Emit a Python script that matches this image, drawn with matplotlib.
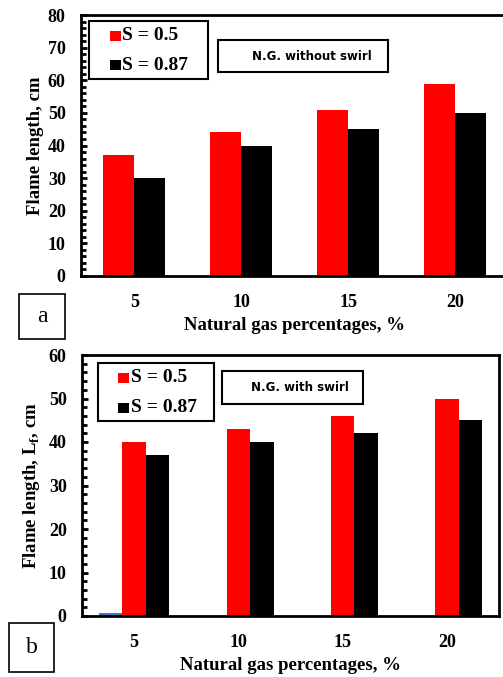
import numpy as np
import matplotlib.pyplot as plt
from matplotlib.patches import Rectangle
from matplotlib.ticker import MultipleLocator

plt.rcParams['font.family'] = 'Liberation Serif'
plt.rcParams['mathtext.fontset'] = 'custom'
plt.rcParams['mathtext.rm'] = 'Liberation Serif:bold'
plt.rcParams['mathtext.bf'] = 'Liberation Serif:bold'

categories = ['5', '10', '15', '20']
series_labels = ['S = 0.5', 'S = 0.87']
series_colors = ['red', 'black']

# panel a: N.G. without swirl
a_s05 = [37, 44, 51, 59]
a_s087 = [30, 40, 45, 50]

# panel b: N.G. with swirl
b_extra = [0.7, 0, 0, 0]
b_s05 = [40, 43, 46, 50]
b_s087 = [37, 40, 42, 45]

W, H = 503, 677
fig = plt.figure(figsize=(W / 100, H / 100), dpi=100)


def px_axes(l, t, r, b):
    return fig.add_axes([l / W, (H - b) / H, (r - l) / W, (b - t) / H])


def fx(px):
    return px / W


def fy(py):
    return (H - py) / H


def style(ax, ymax, minor):
    ax.set_ylim(0, ymax)
    ax.set_xlim(-0.5, 3.5)
    ax.set_xticks(range(len(categories)))
    ax.set_xticklabels(categories)
    ax.yaxis.set_major_locator(MultipleLocator(10))
    ax.yaxis.set_minor_locator(MultipleLocator(minor))
    for s in ax.spines.values():
        s.set_linewidth(2.0)
    ax.tick_params(axis='y', direction='in', length=4, width=2.0, pad=11, labelsize=13)
    ax.tick_params(axis='y', which='minor', direction='in', length=3.5, width=2.0)
    ax.tick_params(axis='x', length=0, pad=13, labelsize=13)
    for lab in ax.get_xticklabels() + ax.get_yticklabels():
        lab.set_fontweight('bold')


def legend(box, rows, mx, tx):
    # box in pixels (l, t, r, b); rows = y centres in pixels
    l, t, r, b = box
    fig.add_artist(Rectangle((fx(l), fy(b)), fx(r - l), (b - t) / H, transform=fig.transFigure,
                             fill=False, edgecolor='black', linewidth=1.5))
    for yc, lab, col in zip(rows, series_labels, series_colors):
        fig.add_artist(Rectangle((fx(mx), fy(yc + 5)), fx(11), 10 / H, transform=fig.transFigure,
                                 facecolor=col, edgecolor='none'))
        fig.text(fx(tx), fy(yc), lab, ha='left', va='center', fontsize=14, fontweight='bold')


def note(box, text, tx):
    l, t, r, b = box
    fig.add_artist(Rectangle((fx(l), fy(b)), fx(r - l), (b - t) / H, transform=fig.transFigure,
                             fill=False, edgecolor='black', linewidth=1.5))
    fig.text(fx(tx), fy((t + b) / 2), text, ha='center', va='center',
             fontsize=8.5, fontweight='bold', family='DejaVu Sans')


def panel_box(l, t, r, b, letter):
    fig.add_artist(Rectangle((fx(l), fy(b)), fx(r - l), (b - t) / H,
                             transform=fig.transFigure, fill=False, edgecolor='black', linewidth=1.2))
    fig.text(fx((l + r) / 2), fy((t + b) / 2), letter, ha='center', va='center', fontsize=17)


x = np.arange(len(categories))

# panel a
ax1 = px_axes(81, 15, 508.5, 276)
w = 0.29
ax1.bar(x - w / 2, a_s05, w, color=series_colors[0])
ax1.bar(x + w / 2, a_s087, w, color=series_colors[1])
style(ax1, 80, 2)
ax1.set_ylabel('Flame length, cm', fontsize=13.5, fontweight='bold', labelpad=3)
ax1.set_xlabel('Natural gas percentages, %', fontsize=13.5, fontweight='bold', labelpad=4)
legend((89, 21, 208, 79), (36, 65), 110, 122)
note((218, 40, 388, 72), 'N.G. without swirl', 312)
panel_box(19, 294, 65, 339, 'a')

# panel b
ax2 = px_axes(82, 355, 499, 616)
w = 0.225
ax2.bar(x - w, b_extra, w, color='#4472C4')
ax2.bar(x, b_s05, w, color=series_colors[0])
ax2.bar(x + w, b_s087, w, color=series_colors[1])
style(ax2, 60, 2)
ax2.set_ylabel(r'Flame length, L$_\mathbf{f}$, cm', fontsize=13.5, fontweight='bold', labelpad=5)
ax2.set_xlabel('Natural gas percentages, %', fontsize=13.5, fontweight='bold', labelpad=4)
legend((98, 363, 214, 421), (378, 408), 118, 131)
note((222, 371, 363, 404), 'N.G. with swirl', 300)
panel_box(9, 623, 54, 672, 'b')

fig.savefig('out.png', dpi=100)
